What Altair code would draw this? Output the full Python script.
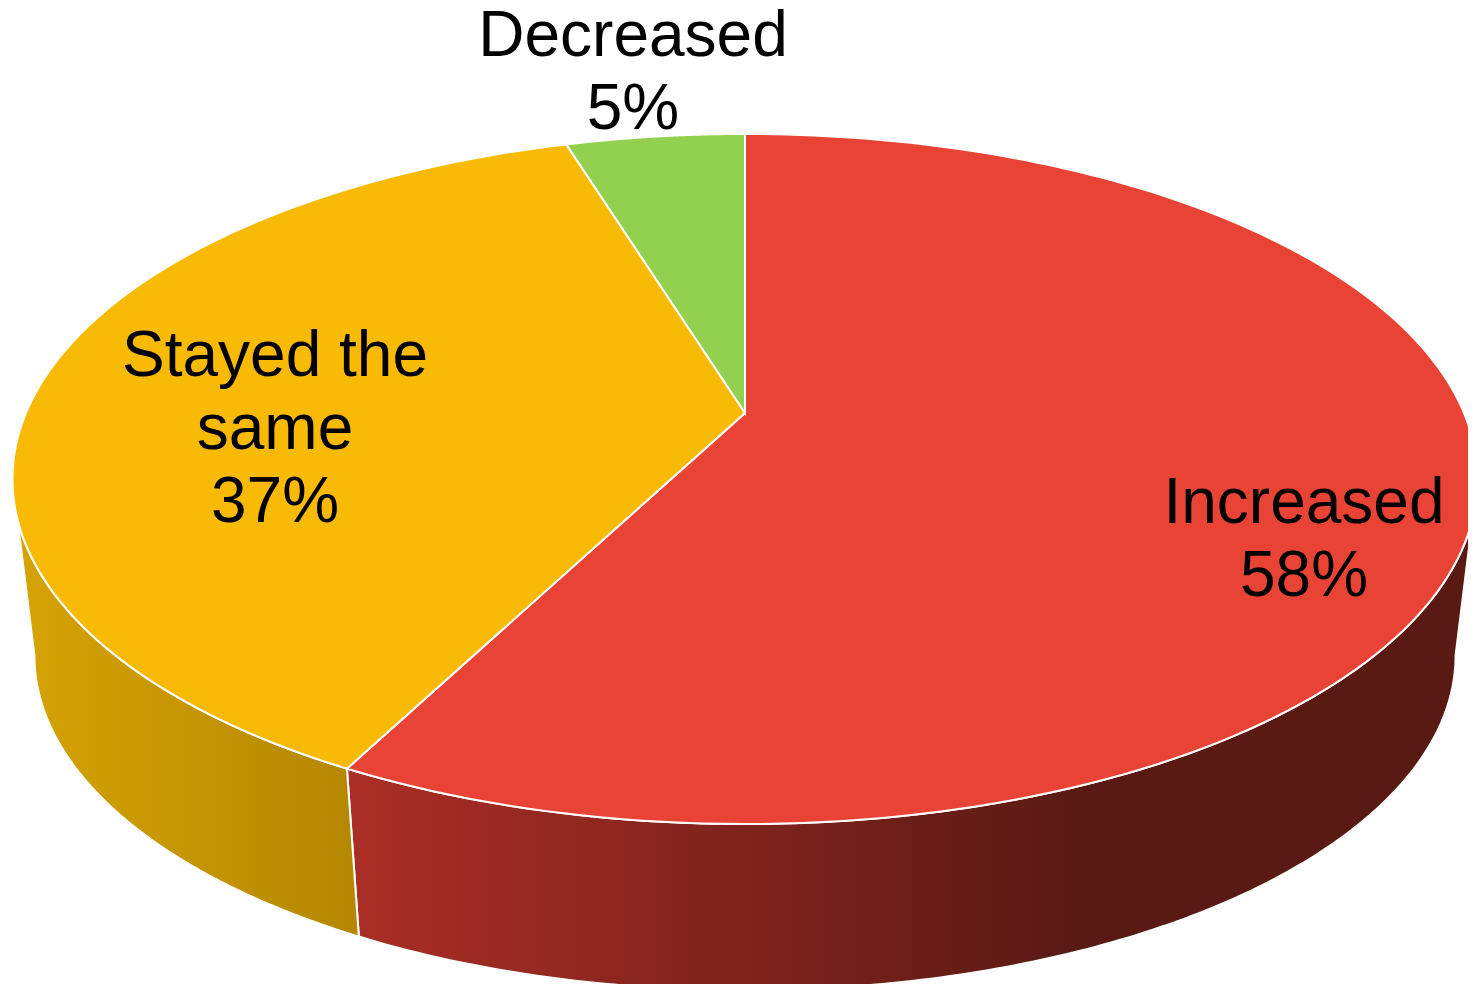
import math
import altair as alt

categories = ["Increased", "Stayed the same", "Decreased"]
shares = [57.6, 37.65, 4.75]
label_lines = [["Increased", "58%"], ["Stayed the", "same", "37%"], ["Decreased", "5%"]]
top_colors = ["#E94335", "#F8BA04", "#92D050"]
side_stops = {
    "Increased": [(0, "#AB2E26"), (0.64, "#5A1A14"), (1, "#5A1A14")],
    "Stayed the same": [(0, "#D6A404"), (1, "#B58702")],
}
label_places = {
    "Increased": (1296, 515),
    "Stayed the same": (267, 368),
    "Decreased": (625, 48),
}
LINE_HEIGHT = 73

# Perspective view of the pie's circular top, in page pixels
CX, CY, A, B, P = 745, 413, 719, 332.4, -0.1913
SCALE, DROP = 0.97, 191
VISIBLE = (101, 259)  # degrees of the rim that face the viewer


def top(deg):
    t = math.radians(deg)
    w = -math.cos(t)
    d = 1 + P * w
    return [CX + A * math.sin(t) / d, CY + B * w / d]


def low(deg):
    x, y = top(deg)
    return [CX + SCALE * (x - CX), SCALE * y + DROP]


def sweep(a, b, n=160):
    return [a + (b - a) * i / n for i in range(n + 1)]


def feature(ring, name):
    ring = ring + [ring[0]]
    return {
        "type": "Feature",
        "properties": {"name": name},
        "geometry": {"type": "Polygon", "coordinates": [ring]},
    }


PROJ = dict(type="identity", scale=1, translate=[-8, -8])

edges = [0]
for s in shares:
    edges.append(edges[-1] + s / sum(shares) * 360)

sides = []
for i, name in enumerate(categories):
    a, b = max(edges[i], VISIBLE[0]), min(edges[i + 1], VISIBLE[1])
    if a >= b or name not in side_stops:
        continue
    angles = sweep(a, b)
    ring = [top(d) for d in angles] + [low(d) for d in reversed(angles)]
    grad = alt.Gradient(
        gradient="linear", x1=0, x2=1, y1=0, y2=0,
        stops=[alt.GradientStop(offset=o, color=c) for o, c in side_stops[name]],
    )
    sides.append(
        alt.Chart(alt.Data(values=[feature(ring, name)]))
        .mark_geoshape(fill=grad, stroke="#FFFFFF", strokeWidth=2)
        .project(**PROJ)
    )

tops = []
for i, name in enumerate(categories):
    ring = [[CX, CY]] + [top(d) for d in sweep(edges[i], edges[i + 1])]
    tops.append(
        alt.Chart(alt.Data(values=[feature(ring, name)]))
        .mark_geoshape(fill=top_colors[i], stroke="#FFFFFF", strokeWidth=2)
        .project(**PROJ)
    )

texts = []
for name, lines in zip(categories, label_lines):
    x, y = label_places[name]
    for j, line in enumerate(lines):
        texts.append(
            alt.Chart(alt.Data(values=[{"label": line}]))
            .mark_text(
                font="Liberation Sans", fontSize=64, color="#000000", align="center",
                baseline="alphabetic",
            )
            .encode(text="label:N", x=alt.value(x), y=alt.value(y + j * LINE_HEIGHT))
        )

chart = (
    alt.layer(*sides, *tops, *texts)
    .properties(
        width=1460, height=976, padding=0,
        autosize=alt.AutoSizeParams(type="none"),
    )
    .configure_view(stroke=None)
)

chart.save("out.html", embed_options={"renderer": "svg", "actions": False})
